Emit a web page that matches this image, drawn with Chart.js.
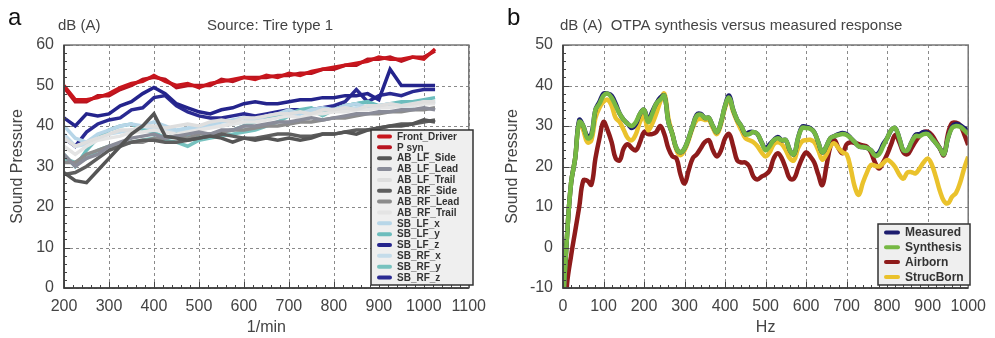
<!DOCTYPE html>
<html>
<head>
<meta charset="utf-8">
<script src="https://cdn.jsdelivr.net/npm/chart.js@4.4.1/dist/chart.umd.min.js"></script>
<style>
body{margin:0;background:#fff;width:995px;height:338px;overflow:hidden;position:relative}
canvas{position:absolute;top:0}
#chartA{left:0}
#chartB{left:495px}
</style>
</head>
<body>
<canvas id="chartA" width="495" height="338"></canvas>
<canvas id="chartB" width="500" height="338"></canvas>
<script>
// ---- panel a: level vs engine speed ----
var rpm = [200,225,250,275,300,325,350,375,400,425,450,475,500,525,550,575,600,625,650,675,700,725,750,775,800,825,850,875,900,925,950,975,1000,1025];

var frontDriver = [50,46.5,46.5,47,48,49.5,50.5,51,52.5,51,50,50.5,49.5,50.5,51,51.5,52,51.5,52.5,52,53,52.5,53.5,54,54.5,55,55.5,56,57,56.5,56.5,57,56.5,59];
var pSyn = [49.5,46,46,47.5,47.5,49,50,51.5,52,51.5,49.5,50,50,50,51.5,51,52,52,52,52.5,52.5,53,53,54,54,55,55,56.5,56.5,57,56,57,57,58.5];
var abLfSide = [28.5,26.5,26,29,32,35,38,40,43,37.5,37,36.5,37,37.5,37,36,37,36.5,37,36.5,37,36.5,37,38,38,38.5,38,39,39.5,40,40,40.5,41.5,41];
var abLfLead = [33,30,32,33,35,36,37,37.5,38,37,37.5,38,38.5,38,39,39,40,40,40.5,41,41,41.5,42,41.5,42,42.5,43,43,43.5,43.5,44,44,44.5,44];
var abLfTrail = [37,35,36,37,38,39,39,40,40,39.5,40,40.5,40,41,41.5,41,42,42,42.5,43,43,43.5,43,44,44,44.5,44,45,45,45.5,45,45.5,46,46];
var abRfSide = [28,28.5,30,32,34,35,36,36.5,36.5,36,36,36.5,37,37.5,38,37.5,37,37,37.5,38,38,37.5,37.5,38,38,38.5,39,39,39.5,40,40.5,40.5,41,41.5];
var abRfLead = [31,31,33,34,35,35.5,36,36,37,37,37.5,37,38,38,38.5,39,39,39.5,40,40,40.5,41,41,41.5,42,42,42.5,43,43,43.5,43.5,44,44,44.5];
var abRfTrail = [35,33,35,36.5,37,37.5,38.5,38.5,39,38.5,38,38.5,39,39.5,40,40.5,41,41,41.5,42,42.5,42,43,43,43.5,43.5,44,44,44.5,44.5,45,45,45.5,45.5];
var sbLfX = [40,37,36,38,39,40,40.5,40,41,40,39,39.5,40,40.5,41,41.5,42,41.5,42.5,43,44,43,44,44.5,44,45,45.5,44.5,45,45.5,45,45,46,46];
var sbLfY = [33,30,34,37,39,40,40.5,39,38.5,37,38,37.5,37,38,38.5,39,40,41,42,42.5,43,44,44.5,43,44,45,45.5,46,45,45.5,46,46,46.5,47];
var sbLfZ = [42,40,43,42.5,43,45,46,48,49.5,48,45.5,44.5,43.5,43,44,44.5,45.5,46,45.5,45.5,46,46.5,46.5,47,47,47.5,47.5,48,46.5,54,50,50,50,50];
var sbRfX = [38,35,35.5,37,38,38.5,39,39,39.5,39,38.5,39,39.5,40,40,40.5,41,41.5,42,42.5,42.5,43,43.5,43.5,44,44,44.5,45,44.5,45,45,45.5,45.5,46];
var sbRfY = [32,31,32,34,35,35.5,36,36.5,37,36.5,36,35,36.5,37,37.5,38,38.5,39,40,41,42.5,43.5,44,42.5,44,45,45.5,46,44.5,45,45.5,45,46,46];
var sbRfZ = [37,35,38.5,40.5,41.5,42,44,44.5,47,47.5,45,43.5,42.5,42,42,42.5,43,42.5,43,43.5,44,44,44,44.5,45,46,49,46,47.5,48,47.5,48.5,49,49];

// ---- panel b: spectra ----
var hz = [0,10,20,30,40,50,60,70,80,90,
  100,110,120,130,140,150,160,170,180,190,
  200,210,220,230,240,250,260,270,280,290,
  300,310,320,330,340,350,360,370,380,390,
  400,410,420,430,440,450,460,470,480,490,
  500,510,520,530,540,550,560,570,580,590,
  600,610,620,630,640,650,660,670,680,690,
  700,710,720,730,740,750,760,770,780,790,
  800,810,820,830,840,850,860,870,880,890,
  900,910,920,930,940,950,960,970,980,990,1000];

var measured = [-14,3,16,22,31.5,30,27.5,28,34,36,
  38,38,37.5,35.5,33,31.5,30.5,29.5,30.5,33,
  34,31.5,33.5,35.5,37,37.5,31,28,24.5,23.5,
  24.5,27,30,32.8,33,32,32,30,28.5,31,
  35,37.5,34,31.5,30,28,28.5,28.5,28,26,
  24.5,25.5,26.5,27.3,26.5,26.5,24,23,27,29.8,
  29.8,29.5,28.5,26,23.5,25,27,27.5,28,28.3,
  28,27,26,25,24.8,24.6,24,23,23.5,25.5,
  27,29,29.5,27,24,24,26,27.8,28,28.5,
  28.3,27,25.8,24.5,23,27,29.8,30.5,30.2,29.5,28.8];
var synthesis = [-14,3,16,22,31,30,27,27.5,34,35.5,
  37.5,38,37,35,33,31.5,30.5,30,31,33,
  34,31,33,35.5,36.5,37.5,31,28,24.5,23.5,
  24.5,27,30,32.5,32.8,32,32,30,28.5,31,
  35,37,34,31.5,30,28,28,28.5,28,26,
  24,25,26.5,27,26.5,26.5,24,23,27,29.5,
  29.5,29.3,28.5,26,23.5,25,27,27.5,27.8,28,
  27.8,27,26,25,24.8,24.6,24,22.7,23,25,
  27,29,29.5,27,24,24,26,27.5,27.5,28,
  28,27,25.8,24.5,23,27,29.5,30,29.8,29,28];
var airborn = [-24,-9,-2,4,10,16.5,16.5,15.5,22,27,
  31,29,26,22,21.5,24.5,25.5,24.5,24,26,
  28.5,28,28,28.5,30,28,24.5,22.5,22,18,
  15.8,19,22,23,24.5,26,26.5,24,22.5,24,
  27,28,25,21.5,21,21,20,17.5,16.8,17.5,
  18,19,22,23.3,22,19.5,17,17,19.5,22,
  23.5,22.5,21,18,15.4,20,25,26.5,24.5,23.3,
  25.5,26,25.8,25.5,25.2,24.9,23.5,21,19.5,21,
  23,25.5,27.8,26,23.5,23,24.5,26.2,27.5,28.5,
  28.6,27.8,26.2,24.5,22.8,28,30.7,30.8,30.2,28,25.3];
var strucBorn = [-14,3,16,22,31,29,26,26.5,32,34.5,
  36,36.5,35,32,31,29,27,26.5,28,31,
  32.5,29,30.5,33,36,38,32,28,24,22.8,
  24,26.5,29.5,31.5,31.8,31.5,31.5,29.5,28,30.5,
  34.5,36.5,33.5,31,29,27,26.5,26,25,23.5,
  22.5,23.5,25.5,26,25.5,24,22,21.5,24.5,26.2,
  26.5,26.6,26,24,21.7,23,25,25.7,24.5,23.5,
  23,19.5,15,13,16,18.5,20.4,20.2,20,20.8,
  21.6,21,19.8,18,17,18.5,18.6,18.3,19.5,21,
  22,20.5,17.5,14,11.5,10.9,12.5,13.5,16,19.5,22.4];

var FONT = '"Liberation Sans", Arial, Helvetica, sans-serif';
Chart.defaults.font.family = FONT;

function pts(xs, ys) {
  return ys.map(function (v, i) { return { x: xs[i], y: v }; });
}

// dashed grid under the lines; frame, inside tick marks, texts and boxed legend on top
var decor = {
  id: 'decor',
  beforeDatasetsDraw: function (chart) {
    var ctx = chart.ctx, a = chart.chartArea;
    ctx.save();
    ctx.strokeStyle = '#8a8a8a';
    ctx.lineWidth = 1;
    ctx.setLineDash([3, 3]);
    ctx.beginPath();
    chart.scales.x.ticks.forEach(function (t) {
      var p = Math.round(chart.scales.x.getPixelForValue(t.value)) + 0.5;
      ctx.moveTo(p, a.top); ctx.lineTo(p, a.bottom);
    });
    chart.scales.y.ticks.forEach(function (t) {
      var p = Math.round(chart.scales.y.getPixelForValue(t.value)) + 0.5;
      ctx.moveTo(a.left, p); ctx.lineTo(a.right, p);
    });
    ctx.stroke();
    ctx.restore();
  },
  afterDraw: function (chart, args, o) {
    var ctx = chart.ctx, a = chart.chartArea;
    var xs = chart.scales.x, ys = chart.scales.y;
    ctx.save();
    ctx.strokeStyle = '#444';
    ctx.lineWidth = 1;
    ctx.beginPath();
    var v, p, len;
    for (v = xs.min; v <= xs.max + 0.001; v += o.xMinor) {
      p = Math.round(xs.getPixelForValue(v)) + 0.5;
      len = Math.abs((v - xs.min) % o.xMajor) < 0.001 ? 6 : 3;
      ctx.moveTo(p, a.bottom); ctx.lineTo(p, a.bottom - len);
    }
    for (v = ys.min; v <= ys.max + 0.001; v += o.yMinor) {
      p = Math.round(ys.getPixelForValue(v)) + 0.5;
      len = Math.abs((v - ys.min) % o.yMajor) < 0.001 ? 6 : 3;
      ctx.moveTo(a.left, p); ctx.lineTo(a.left + len, p);
    }
    ctx.stroke();

    ctx.strokeStyle = '#777';
    ctx.lineWidth = 1.5;
    ctx.strokeRect(a.left, a.top, a.right - a.left, a.bottom - a.top);
    ctx.strokeStyle = '#333';
    ctx.beginPath();
    ctx.moveTo(a.left, a.top); ctx.lineTo(a.left, a.bottom); ctx.lineTo(a.right, a.bottom);
    ctx.stroke();

    ctx.fillStyle = '#111';
    ctx.font = '24px ' + FONT;
    ctx.textAlign = 'left';
    ctx.textBaseline = 'alphabetic';
    ctx.fillText(o.letter, o.letterX, 25);
    ctx.fillStyle = '#444';
    ctx.font = '15px ' + FONT;
    o.texts.forEach(function (t) {
      ctx.textAlign = t.align;
      ctx.fillText(t.text, t.x, 30);
    });

    var L = o.legend;
    ctx.fillStyle = '#efefef';
    ctx.fillRect(L.x, L.y, L.w, L.h);
    ctx.strokeStyle = '#333';
    ctx.lineWidth = 1.5;
    ctx.strokeRect(L.x, L.y, L.w, L.h);
    ctx.font = 'bold ' + L.size + 'px ' + FONT;
    ctx.textAlign = 'left';
    ctx.textBaseline = 'middle';
    ctx.lineCap = 'round';
    chart.data.datasets.forEach(function (ds, i) {
      var y = L.y + L.first + i * L.step;
      ctx.strokeStyle = ds.borderColor;
      ctx.lineWidth = 4;
      ctx.beginPath();
      ctx.moveTo(L.x + 8, y); ctx.lineTo(L.x + 8 + L.sw, y);
      ctx.stroke();
      ctx.fillStyle = '#333';
      ctx.fillText(ds.label, L.x + L.sw + 15, y + 0.5);
    });
    ctx.restore();
  }
};

function axes(xMin, xMax, yMin, yMax, xTitle, yWidth) {
  var tickFont = { size: 16 };
  return {
    x: {
      type: 'linear', min: xMin, max: xMax,
      ticks: { stepSize: 100, color: '#444', font: tickFont, padding: 9, maxRotation: 0,
        callback: function (v) { return String(v); } },
      grid: { display: true, drawOnChartArea: false, drawTicks: false },
      border: { display: false },
      title: { display: true, text: xTitle, color: '#444', font: { size: 16 }, padding: { top: 0, bottom: 1 } },
      afterFit: function (s) { s.height = 50; }
    },
    y: {
      min: yMin, max: yMax,
      ticks: { stepSize: 10, color: '#444', font: tickFont, padding: 10 },
      grid: { display: true, drawOnChartArea: false, drawTicks: false },
      border: { display: false },
      title: { display: true, text: 'Sound Pressure', color: '#444', font: { size: 16 }, padding: { top: 8, bottom: 0 } },
      afterFit: function (s) { s.width = yWidth; }
    }
  };
}

var namesA = ['Front_Driver','P syn_','AB_LF_Side','AB_LF_Lead','AB_LF_Trail','AB_RF_Side','AB_RF_Lead','AB_RF_Trail','SB_LF_x','SB_LF_y','SB_LF_z','SB_RF_x','SB_RF_y','SB_RF_z'];
var colorsA = ['#c8161d','#b81420','#555555','#8a8c99','#dedede','#5e5e5e','#8c8c8c','#e4e4e4','#b7d6e8','#6cbdbd','#24248c','#c4dcea','#77c2bf','#2a2a92'];
var valuesA = [frontDriver,pSyn,abLfSide,abLfLead,abLfTrail,abRfSide,abRfLead,abRfTrail,sbLfX,sbLfY,sbLfZ,sbRfX,sbRfY,sbRfZ];

new Chart(document.getElementById('chartA'), {
  type: 'line',
  data: {
    datasets: namesA.map(function (n, i) {
      return { label: n, data: pts(rpm, valuesA[i]), borderColor: colorsA[i], borderWidth: 3.5,
        pointRadius: 0, tension: 0, fill: false };
    })
  },
  options: {
    responsive: false, animation: false, devicePixelRatio: 1,
    layout: { padding: { left: 0, right: 18, top: 45, bottom: 0 } },
    plugins: {
      legend: { display: false }, tooltip: { enabled: false },
      decor: {
        letter: 'a', letterX: 8, xMinor: 20, xMajor: 100, yMinor: 2, yMajor: 10,
        texts: [{ text: 'dB (A)', x: 58, align: 'left' }, { text: 'Source: Tire type 1', x: 270, align: 'center' }],
        legend: { x: 371, y: 130, w: 102, h: 155, first: 6.5, step: 10.85, sw: 11, size: 10 }
      }
    },
    scales: axes(200, 1100, 0, 60, '1/min', 64)
  },
  plugins: [decor]
});

var namesB = ['Measured','Synthesis','Airborn','StrucBorn'];
var colorsB = ['#1c1c6e','#76b843','#8e1b1b','#eac22c'];
var valuesB = [measured,synthesis,airborn,strucBorn];
var drawOrder = [1,0,3,2];

new Chart(document.getElementById('chartB'), {
  type: 'line',
  data: {
    datasets: namesB.map(function (n, i) {
      return { label: n, data: pts(hz, valuesB[i]), borderColor: colorsB[i], borderWidth: 4.5,
        pointRadius: 0, tension: 0.4, fill: false, order: drawOrder[i] };
    })
  },
  options: {
    responsive: false, animation: false, devicePixelRatio: 1,
    layout: { padding: { left: 0, right: 20, top: 45, bottom: 0 } },
    plugins: {
      legend: { display: false }, tooltip: { enabled: false },
      decor: {
        letter: 'b', letterX: 12, xMinor: 20, xMajor: 100, yMinor: 2, yMajor: 10,
        texts: [{ text: 'dB (A)  OTPA synthesis versus measured response', x: 65, align: 'left' }],
        legend: { x: 383, y: 224, w: 92, h: 61, first: 8.5, step: 14.8, sw: 12, size: 12 }
      }
    },
    scales: axes(0, 1000, -10, 50, 'Hz', 68)
  },
  plugins: [decor]
});
</script>
</body>
</html>
